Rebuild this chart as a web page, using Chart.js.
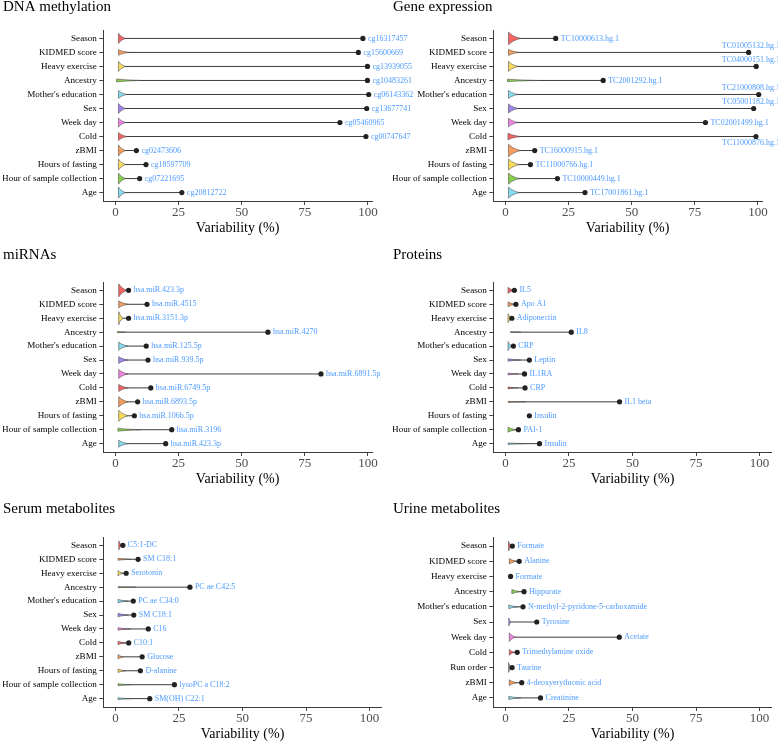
<!DOCTYPE html>
<html>
<head>
<meta charset="utf-8">
<script src="https://cdn.jsdelivr.net/npm/chart.js@4.4.1/dist/chart.umd.min.js"></script>
<style>
  body { margin: 0; background: #fff; }
  #wrap { position: relative; width: 778px; height: 742px; overflow: hidden; }
  canvas { position: absolute; }
</style>
</head>
<body>
<div id="wrap">
  <canvas id="dna" width="460" height="243" style="left:0;top:-2px"></canvas>
  <canvas id="mirna" width="460" height="246" style="left:0;top:246px"></canvas>
  <canvas id="serum" width="460" height="247" style="left:0;top:500px"></canvas>
  <canvas id="gene" width="388" height="243" style="left:390px;top:-2px"></canvas>
  <canvas id="protein" width="388" height="246" style="left:390px;top:246px"></canvas>
  <canvas id="urine" width="388" height="247" style="left:390px;top:500px"></canvas>
</div>
<script>
// exposures (same order in five of the six panels)
const exposures = ['Season', 'KIDMED score', 'Heavy exercise', 'Ancestry', "Mother's education", 'Sex',
    'Week day', 'Cold', 'zBMI', 'Hours of fasting', 'Hour of sample collection', 'Age'];
const urineExposures = ['Season', 'KIDMED score', 'Heavy exercise', 'Ancestry', "Mother's education", 'Sex',
    'Week day', 'Cold', 'Run order', 'zBMI', 'Age'];
const xTicks = [0, 25, 50, 75, 100];

// DNA methylation
const dnaMax = [98.0, 96.2, 99.8, 99.8, 100.3, 99.5, 88.9, 99.2, 8.3, 12.1, 9.6, 26.3];
const dnaTop = ['cg16317457', 'cg15600669', 'cg13939055', 'cg10483261', 'cg06143362', 'cg13677741',
    'cg05460965', 'cg00747647', 'cg02473606', 'cg18597709', 'cg07221695', 'cg20812722'];
const dnaMin = [1.2, 1.2, 1.2, 0.5, 1.2, 1.2, 1.2, 1.2, 1.2, 1.2, 1.2, 1.2];
const dnaBody = [4, 5.5, 4, 10, 4.5, 4, 4, 4.5, 4, 4, 4, 4];
const dnaDensity = [1, 0.55, 1, 0.3, 0.8, 1, 0.9, 0.8, 1.1, 1.1, 1.1, 1.1];

// Gene expression
const geneMax = [19.9, 96.3, 99.3, 38.7, 100.3, 98.3, 79.2, 99.2, 11.6, 9.9, 20.6, 31.5];
const geneTop = ['TC10000613.hg.1', 'TC01005132.hg.1', 'TC04000151.hg.1', 'TC2001292.hg.1', 'TC21000808.hg.1',
    'TC05001182.hg.1', 'TC02001499.hg.1', 'TC11000876.hg.1', 'TC16000915.hg.1', 'TC11000766.hg.1',
    'TC10000449.hg.1', 'TC17001861.hg.1'];
const geneMin = [1.2, 1.2, 1.2, 0.8, 1.2, 1.2, 1.2, 1.0, 1.2, 1.2, 1.2, 1.2];
const geneBody = [6, 5.5, 5, 13, 5, 5, 5, 6, 6, 5.5, 5.5, 5.5];
const geneDensity = [1.25, 0.6, 1, 0.25, 0.8, 0.9, 0.85, 0.65, 1.25, 1.1, 1.1, 1.1];

// miRNAs
const mirMax = [5.2, 12.5, 5.2, 60.4, 12.2, 12.9, 81.4, 14.0, 8.8, 7.5, 22.3, 19.9];
const mirTop = ['hsa.miR.423.3p', 'hsa.miR.4515', 'hsa.miR.3151.3p', 'hsa.miR.4270', 'hsa.miR.125.5p',
    'hsa.miR.939.5p', 'hsa.miR.6891.5p', 'hsa.miR.6749.5p', 'hsa.miR.6893.5p', 'hsa.miR.106b.5p',
    'hsa.miR.3196', 'hsa.miR.423.3p'];
const mirMin = [1.3, 1.3, 1.3, 0.8, 1.3, 1.3, 1.3, 1.3, 1.3, 1.3, 1.0, 1.3];
const mirBody = [4.5, 5, 3, 4, 5, 5, 5, 5, 5, 5, 10, 5];
const mirDensity = [1.3, 0.7, 1.3, 0.12, 0.8, 0.7, 0.9, 0.7, 1.05, 1.1, 0.3, 0.7];

// Proteins
const protMax = [3.5, 4.1, 2.5, 25.9, 3.1, 9.4, 7.5, 7.7, 44.9, 9.4, 5.1, 13.4];
const protTop = ['IL5', 'Apo A1', 'Adiponectin', 'IL8', 'CRP', 'Leptin', 'IL1RA', 'CRP', 'IL1 beta',
    'Insulin', 'PAI-1', 'Insulin'];
const protMin = [1.0, 1.0, 1.0, 2.0, 1.0, 1.0, 1.0, 1.0, 1.0, 9.4, 1.0, 1.0];
const protBody = [3.5, 3.8, 2.5, 6, 2.5, 6, 5, 5, 8, 9.4, 4.5, 8];
const protDensity = [0.6, 0.5, 0.9, 0.1, 0.9, 0.25, 0.2, 0.2, 0.1, 0, 0.5, 0.15];

// Serum metabolites
const serumMax = [2.9, 8.9, 4.2, 29.3, 7.0, 7.2, 12.9, 5.2, 10.5, 9.8, 23.2, 13.5];
const serumTop = ['C5:1-DC', 'SM C18:1', 'Serotonin', 'PC ae C42:5', 'PC ae C34:0', 'SM C18:1', 'C16',
    'C10:1', 'Glucose', 'D-alanine', 'lysoPC a C18:2', 'SM(OH) C22:1'];
const serumMin = [1.3, 1.0, 1.0, 1.0, 1.0, 1.0, 1.0, 1.0, 1.0, 1.0, 1.0, 1.0];
const serumBody = [2.5, 6, 3, 8, 5, 5, 6, 4, 3, 4, 6, 6];
const serumDensity = [0.9, 0.2, 0.55, 0.1, 0.35, 0.35, 0.25, 0.35, 0.45, 0.35, 0.2, 0.2];

// Urine metabolites
const urineMax = [2.7, 5.4, 2.0, 7.3, 6.9, 12.3, 44.8, 4.6, 2.6, 6.4, 13.8];
const urineTop = ['Formate', 'Alanine', 'Formate', 'Hippurate', 'N-methyl-2-pyridone-5-carboxamide',
    'Tyrosine', 'Acetate', 'Trimethylamine oxide', 'Taurine', '4-deoxyerythronic acid', 'Creatinine'];
const urineMin = [1.2, 1.5, 2.0, 2.5, 1.3, 1.3, 1.5, 1.5, 1.2, 1.5, 1.3];
const urineBody = [2.5, 4.5, 2.0, 6, 5, 2.2, 4, 3.5, 2.5, 4.5, 6];
const urineDensity = [0.9, 0.5, 0, 0.4, 0.35, 0.75, 0.8, 0.55, 0.9, 0.55, 0.3];

// styling
const SERIF = "'Liberation Serif', 'Times New Roman', serif";
const LABEL_BLUE = '#4d9bff';
const FILL = {
    'Season': '#f56464', 'KIDMED score': '#f79d5e', 'Heavy exercise': '#f8dc5c', 'Ancestry': '#86d04c',
    "Mother's education": '#86dcef', 'Sex': '#a283ee', 'Week day': '#f384e4', 'Cold': '#f56464',
    'zBMI': '#f79d5e', 'Hours of fasting': '#f8dc5c', 'Hour of sample collection': '#86d04c',
    'Age': '#86dcef', 'Run order': '#9a9a9a'
};
const VIOLIN_HALF = 0.36;  // half height of a full violin, in rows
const TAPER = [[0, 1], [0.3, 0.52], [0.65, 0.2], [1, 0]];

// where each panel sits: x of the axis end inside the canvas, gap under the title
const panels = [
    { id: 'dna', title: 'DNA methylation', rows: exposures, max: dnaMax, top: dnaTop, min: dnaMin, body: dnaBody, dens: dnaDensity, xMax: 101.6, right: 372, gap: 14 },
    { id: 'gene', title: 'Gene expression', rows: exposures, max: geneMax, top: geneTop, min: geneMin, body: geneBody, dens: geneDensity, xMax: 101.6, right: 372, gap: 14 },
    { id: 'mirna', title: 'miRNAs', rows: exposures, max: mirMax, top: mirTop, min: mirMin, body: mirBody, dens: mirDensity, xMax: 101.6, right: 372, gap: 18 },
    { id: 'protein', title: 'Proteins', rows: exposures, max: protMax, top: protTop, min: protMin, body: protBody, dens: protDensity, xMax: 104.8, right: 381.7, gap: 18 },
    { id: 'serum', title: 'Serum metabolites', rows: exposures, max: serumMax, top: serumTop, min: serumMin, body: serumBody, dens: serumDensity, xMax: 104.8, right: 381.7, gap: 19 },
    { id: 'urine', title: 'Urine metabolites', rows: urineExposures, max: urineMax, top: urineTop, min: urineMin, body: urineBody, dens: urineDensity, xMax: 104.8, right: 381.7, gap: 19 }
];

function buildDatasets(p) {
    const sets = [];
    // range line from the smallest to the largest value (drawn first, underneath)
    p.rows.forEach((row, i) => {
        sets.push({
            order: 3,
            data: [{ x: p.min[i], y: i }, { x: p.max[i], y: i }],
            showLine: true, borderColor: '#3b3b3b', borderWidth: 1, pointRadius: 0
        });
    });
    // violin bodies
    p.rows.forEach((row, i) => {
        if (!p.dens[i]) return;
        const h = VIOLIN_HALF * p.dens[i];
        const a = p.min[i], b = p.body[i];
        const upper = TAPER.map(([t, f]) => ({ x: a + t * (b - a), y: i - h * f }));
        const lower = TAPER.slice(0, -1).reverse().map(([t, f]) => ({ x: a + t * (b - a), y: i + h * f }));
        sets.push({
            order: 2,
            data: upper.concat(lower, [upper[0]]),
            showLine: true, fill: 'shape', backgroundColor: FILL[row],
            borderColor: '#555', borderWidth: 0.6, pointRadius: 0, tension: 0
        });
    });
    // top value of each exposure
    sets.push({
        order: 1,
        data: p.rows.map((row, i) => ({ x: p.max[i], y: i })),
        pointRadius: 2.6, pointBackgroundColor: '#222', pointBorderWidth: 0
    });
    return sets;
}

// blue feature names next to the dots, pushed above or below when they would run off
function labelPlugin(p) {
    return {
        id: 'topLabels',
        afterDatasetsDraw(chart) {
            const ctx = chart.ctx;
            const xs = chart.scales.x, ys = chart.scales.y;
            const placed = [];
            ctx.save();
            ctx.font = '8px ' + SERIF;
            ctx.fillStyle = LABEL_BLUE;
            ctx.textBaseline = 'middle';
            ctx.textAlign = 'left';
            p.top.forEach((txt, i) => {
                const px = xs.getPixelForValue(p.max[i]);
                const py = ys.getPixelForValue(i);
                const w = ctx.measureText(txt).width;
                let box = { x: px + 5, y: py, w: w };
                if (box.x + w > chart.width) {
                    const left = chart.width + 2 - w;
                    box = { x: left, y: py - 6.5, w: w };
                    const hit = placed.some(b => Math.abs(b.y - box.y) < 8 && b.x < box.x + w && box.x < b.x + b.w);
                    if (hit) box = { x: left, y: py + 6.5, w: w };
                }
                placed.push(box);
                ctx.fillText(txt, box.x, box.y);
            });
            ctx.restore();
        }
    };
}

panels.forEach(p => {
    const canvas = document.getElementById(p.id);
    new Chart(canvas, {
        type: 'scatter',
        data: { datasets: buildDatasets(p) },
        options: {
            responsive: false,
            animation: false,
            layout: { padding: { left: 3, right: canvas.width - p.right, top: 0, bottom: 0 } },
            plugins: {
                legend: { display: false },
                tooltip: { enabled: false },
                title: {
                    display: true, text: p.title, align: 'start', color: '#000',
                    font: { family: SERIF, size: 15, weight: 'normal', lineHeight: 1.2 },
                    padding: { top: 0, bottom: p.gap }
                }
            },
            scales: {
                x: {
                    type: 'linear', min: -4.8, max: p.xMax,
                    afterBuildTicks: s => { s.ticks = xTicks.map(v => ({ value: v })); },
                    afterFit: s => { s.height = 40; },
                    grid: { drawOnChartArea: false, drawTicks: true, tickLength: 4, color: '#444' },
                    border: { color: '#3a3a3a', width: 1 },
                    ticks: { color: '#4d4d4d', font: { family: SERIF, size: 13 }, padding: 0, maxRotation: 0 },
                    title: {
                        display: true, text: 'Variability (%)', color: '#000',
                        font: { family: SERIF, size: 14 }, padding: { top: 0, bottom: 4.6 }
                    }
                },
                y: {
                    type: 'linear', reverse: true, min: -0.6, max: p.rows.length - 0.4,
                    afterBuildTicks: s => { s.ticks = p.rows.map((r, i) => ({ value: i })); },
                    afterFit: s => { s.width = 100.3; },
                    grid: { drawOnChartArea: false, drawTicks: true, tickLength: 4, color: '#444' },
                    border: { color: '#3a3a3a', width: 1 },
                    ticks: {
                        callback: v => p.rows[v], color: '#000', autoSkip: false, padding: 2.5,
                        font: { family: SERIF, size: 9.1 }
                    }
                }
            }
        },
        plugins: [labelPlugin(p)]
    });
});
</script>
</body>
</html>
